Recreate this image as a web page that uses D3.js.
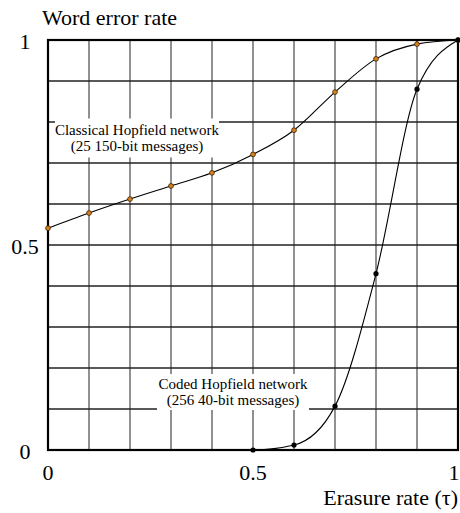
<!DOCTYPE html>
<html>
<head>
<meta charset="utf-8">
<script src="https://cdn.jsdelivr.net/npm/d3@7"></script>
<style>
  body { margin: 0; background: #fff; }
  text { font-family: "Liberation Serif", "Times New Roman", serif; fill: #000; }
</style>
</head>
<body>
<div id="vis"></div>
<script>
// erasure rates (tau) for the classical network
var classicalTau = [0, 0.1, 0.2, 0.3, 0.4, 0.5, 0.6, 0.7, 0.8, 0.9, 1.0];
var classicalErr = [0.541, 0.578, 0.612, 0.644, 0.676, 0.721, 0.780, 0.873, 0.954, 0.990, 1.0];

// coded network: flat at zero up to 0.5
var codedTau = [0, 0.5, 0.6, 0.7, 0.8, 0.9, 1.0];
var codedErr = [0, 0, 0.012, 0.107, 0.43, 0.88, 1.0];
var codedMarked = [0.5, 0.6, 0.7, 0.8, 0.9, 1.0];

var xTicks = [0, 0.5, 1];
var yTicks = [0, 0.5, 1];
var xTickLabels = ["0", "0.5", "1"];
var yTickLabels = ["0", "0.5", "1"];

var classicalLabel = ["Classical Hopfield network", "(25 150-bit messages)"];
var codedLabel = ["Coded Hopfield network", "(256 40-bit messages)"];

function drawChart()
{
    var W = 460, H = 513;
    var pLeft = 48, pRight = 458, pTop = 40, pBottom = 450;

    var svg = d3.select("#vis").append("svg")
        .attr("width", W)
        .attr("height", H);

    var x = d3.scaleLinear().domain([0, 1]).range([pLeft, pRight]);
    var y = d3.scaleLinear().domain([0, 1]).range([pBottom, pTop]);

    var steps = d3.range(1, 10).map(function(i) { return i / 10; });

    // grid
    var grid = svg.append("g");
    grid.selectAll("line.v")
        .data(steps)
        .enter().append("line")
        .attr("x1", function(d) { return x(d); })
        .attr("x2", function(d) { return x(d); })
        .attr("y1", pTop).attr("y2", pBottom)
        .attr("stroke", "#555").attr("stroke-width", 1.3);
    grid.selectAll("line.h")
        .data(steps)
        .enter().append("line")
        .attr("y1", function(d) { return y(d); })
        .attr("y2", function(d) { return y(d); })
        .attr("x1", pLeft).attr("x2", pRight)
        .attr("stroke", "#222").attr("stroke-width", 1.3);

    // label boxes (white, hide grid behind)
    function labelBox(lines, cx, cy, w, h)
    {
        var g = svg.append("g");
        g.append("rect")
            .attr("x", cx - w / 2).attr("y", cy - h / 2)
            .attr("width", w).attr("height", h)
            .attr("fill", "#fff");
        g.selectAll("text")
            .data(lines)
            .enter().append("text")
            .attr("x", cx)
            .attr("y", function(d, i) { return cy - 8 + i * 16; })
            .attr("dy", "0.35em")
            .attr("text-anchor", "middle")
            .style("font-size", "15px")
            .text(function(d) { return d; });
    }
    labelBox(classicalLabel, 137, 138, 164, 39);
    labelBox(codedLabel, 233, 392, 152, 36);

    // frame
    svg.append("rect")
        .attr("x", pLeft).attr("y", pTop)
        .attr("width", pRight - pLeft).attr("height", pBottom - pTop)
        .attr("fill", "none")
        .attr("stroke", "#000").attr("stroke-width", 2.2);

    // curves
    var line = d3.line()
        .x(function(d) { return x(d[0]); })
        .y(function(d) { return y(d[1]); })
        .curve(d3.curveMonotoneX);

    svg.append("path")
        .datum(d3.zip(classicalTau, classicalErr))
        .attr("d", line)
        .attr("fill", "none").attr("stroke", "#000").attr("stroke-width", 1.1);

    svg.append("path")
        .datum(d3.zip(codedTau, codedErr))
        .attr("d", line)
        .attr("fill", "none").attr("stroke", "#000").attr("stroke-width", 1.1);

    // markers
    svg.selectAll("circle.cl")
        .data(d3.zip(classicalTau, classicalErr))
        .enter().append("circle")
        .attr("class", "cl")
        .attr("cx", function(d) { return x(d[0]); })
        .attr("cy", function(d) { return y(d[1]); })
        .attr("r", 2.4)
        .attr("fill", "#d9801f").attr("stroke", "#3a2000").attr("stroke-width", 0.8);

    svg.selectAll("circle.cd")
        .data(d3.zip(codedTau, codedErr).filter(function(d) { return codedMarked.indexOf(d[0]) >= 0; }))
        .enter().append("circle")
        .attr("class", "cd")
        .attr("cx", function(d) { return x(d[0]); })
        .attr("cy", function(d) { return y(d[1]); })
        .attr("r", 2.6)
        .attr("fill", "#000");

    // tick labels (last one kept inside the page edge)
    svg.selectAll("text.xt")
        .data(xTicks)
        .enter().append("text")
        .attr("class", "xt")
        .attr("x", function(d) { return Math.min(x(d), W - 6); })
        .attr("y", 472)
        .attr("dy", "0.35em")
        .attr("text-anchor", "middle")
        .style("font-size", "22px")
        .text(function(d, i) { return xTickLabels[i]; });

    svg.selectAll("text.yt")
        .data(yTicks)
        .enter().append("text")
        .attr("class", "yt")
        .attr("x", 25)
        .attr("y", function(d) { return y(d) + 1; })
        .attr("dy", "0.35em")
        .attr("text-anchor", "middle")
        .style("font-size", "22px")
        .text(function(d, i) { return yTickLabels[i]; });

    // axis titles
    svg.append("text")
        .attr("x", 42).attr("y", 17)
        .attr("dy", "0.35em")
        .style("font-size", "22px")
        .text("Word error rate");

    svg.append("text")
        .attr("x", 458).attr("y", 497)
        .attr("dy", "0.35em")
        .attr("text-anchor", "end")
        .style("font-size", "22px")
        .text("Erasure rate (\u03c4)");
}

drawChart();
</script>
</body>
</html>
